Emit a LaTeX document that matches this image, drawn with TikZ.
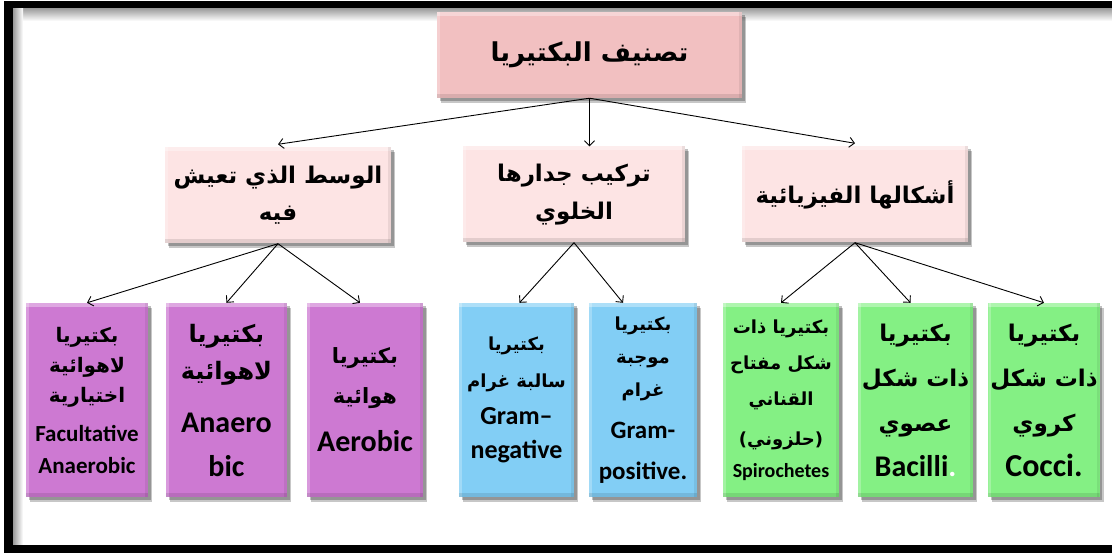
\documentclass[tikz,border=0pt]{standalone}
\usepackage{fontspec}
\setmainfont{Carlito}
\newfontfamily\arabicfont[Script=Arabic]{DejaVu Sans}
\TeXXeTstate=1
\usetikzlibrary{arrows.meta,shadows}

% bold Arabic face and a per-line size switch
\newcommand\arf{\arabicfont\bfseries}
\newcommand\sz[1]{\fontsize{#1}{#1}\selectfont}
\newcommand\fsz[2]{\fontsize{#1}{#2}\selectfont}
\newcommand\enln[2]{\fontsize{#1}{#1}\selectfont\bfseries #2}

\definecolor{toppink}{RGB}{242,192,193}
\definecolor{lightpink}{RGB}{253,228,228}
\definecolor{violetbox}{RGB}{205,121,210}
\definecolor{skybox}{RGB}{130,206,245}
\definecolor{greenbox}{RGB}{132,240,132}

\begin{document}
\begin{tikzpicture}[x=1pt,y=-1pt,
  boxbase/.style={rectangle, inner sep=2pt, align=center, text=black,
    drop shadow={shadow xshift=4pt, shadow yshift=-5pt, opacity=.22, fill=black},
    drop shadow={shadow xshift=2.5pt, shadow yshift=-3pt, opacity=.25, fill=black},
    path picture={
      \fill[white,opacity=.35] (path picture bounding box.north west) rectangle ([yshift=-4pt]path picture bounding box.north east);
      \fill[white,opacity=.25] (path picture bounding box.north west) rectangle ([xshift=3pt]path picture bounding box.south west);
      \fill[black,opacity=.10] ([yshift=4pt]path picture bounding box.south west) rectangle (path picture bounding box.south east);
      \fill[black,opacity=.07] ([xshift=-3pt]path picture bounding box.north east) rectangle (path picture bounding box.south east);
    }},
  titlebox/.style={boxbase, fill=toppink, minimum width=305pt, minimum height=86pt},
  groupbox/.style={boxbase, fill=lightpink, minimum height=96pt},
  leafbox/.style={boxbase, minimum height=194pt},
  arr/.style={draw=black, line width=0.9pt, -{Straight Barb[length=5pt,width=10pt]}}
]
\useasboundingbox (0,0) rectangle (1112,553);
\fill[white] (0,0) rectangle (1112,553);

% frame, open on the right
\shade[top color=black!40, bottom color=white] (13,8) rectangle (1112,21);
\shade[left color=black!40, right color=white] (13,8) rectangle (23,545);
\fill[black] (4,0.7) rectangle (1112,8);
\fill[black] (4,0.7) rectangle (13,553);
\fill[black] (4,545) rectangle (1112,553);

% root
\node[titlebox, font=\fsz{26}{32}] (root) at (589.5,55)
  {\arf\beginR تصنيف البكتيريا\endR};

% groups
\node[groupbox, minimum width=226pt, font=\fsz{10}{37}] (medium) at (278,195.5)
  {\sz{23}\arf\beginR الوسط الذي تعيش\endR\\\sz{23}\arf\beginR فيه\endR};
\node[groupbox, minimum width=222pt, font=\fsz{10}{38}] (wall) at (574,194.5)
  {\sz{23}\arf\beginR تركيب جدارها\endR\\\sz{23}\arf\beginR الخلوي\endR};
\node[groupbox, minimum width=226pt, font=\fsz{23}{30}] (shape) at (855,194.5)
  {\arf\beginR أشكالها الفيزيائية\endR};

% leaves: medium
\node[leafbox, fill=violetbox, minimum width=122pt, font=\fsz{10}{30}] (facult) at (87,400)
  {\sz{20}\arf\beginR بكتيريا\endR\\\sz{20}\arf\beginR لاهوائية\endR\\\sz{20}\arf\beginR اختيارية\endR\\[9pt]
   \enln{23}{Facultative}\\[2pt]\enln{23}{Anaerobic}};
\node[leafbox, fill=violetbox, minimum width=121pt, font=\fsz{10}{37}] (anaer) at (226.5,400)
  {\sz{24}\arf\beginR بكتيريا\endR\\\sz{24}\arf\beginR لاهوائية\endR\\[16pt]
   \enln{30}{Anaero}\\[7pt]\enln{30}{bic}};
\node[leafbox, fill=violetbox, minimum width=116pt, font=\fsz{10}{40}] (aerob) at (365,400)
  {\sz{21}\arf\beginR بكتيريا\endR\\\sz{21}\arf\beginR هوائية\endR\\[8pt]
   \enln{30}{Aerobic}};

% leaves: wall
\node[leafbox, fill=skybox, minimum width=115pt, font=\fsz{10}{37}] (gneg) at (516.5,400)
  {\sz{18}\arf\beginR بكتيريا\endR\\\sz{18}\arf\beginR سالبة غرام\endR\\
   \enln{26}{Gram–}\\[-3pt]\enln{26}{negative}};
\node[leafbox, fill=skybox, minimum width=108pt, font=\fsz{10}{33}] (gpos) at (643,400)
  {\sz{18}\arf\beginR بكتيريا\endR\\\sz{18}\arf\beginR موجبة\endR\\\sz{18}\arf\beginR غرام\endR\\[9pt]
   \enln{25}{Gram-}\\[8pt]\enln{25}{positive.}};

% leaves: shape
\node[leafbox, fill=greenbox, minimum width=116pt, font=\fsz{10}{36}] (spiro) at (781,400)
  {\sz{18}\arf\beginR بكتيريا ذات\endR\\\sz{18}\arf\beginR شكل مفتاح\endR\\\sz{18}\arf\beginR القناني\endR\\[4pt]\sz{18}\arf\beginR (حلزوني)\endR\\[-4pt]
   \enln{20}{Spirochetes}};
\node[leafbox, fill=greenbox, minimum width=115pt, font=\fsz{10}{45}] (bacil) at (915.5,400)
  {\sz{23}\arf\beginR بكتيريا\endR\\\sz{23}\arf\beginR ذات شكل\endR\\\sz{23}\arf\beginR عصوي\endR\\
   \enln{30}{Bacilli{\color{white}.}}};
\node[leafbox, fill=greenbox, minimum width=108pt, font=\fsz{10}{45}] (cocci) at (1044,400)
  {\sz{23}\arf\beginR بكتيريا\endR\\\sz{23}\arf\beginR ذات شكل\endR\\\sz{23}\arf\beginR كروي\endR\\
   \enln{32}{Cocci.}};

% connectors
\draw[arr] (root.south) -- ([yshift=3pt]medium.north);
\draw[arr] (root.south) -- (root.south |- wall.north);
\draw[arr] (root.south) -- ([yshift=3pt]shape.north);

\draw[arr] (medium.south) -- (facult.north);
\draw[arr] (medium.south) -- (anaer.north);
\draw[arr] (medium.south) -- ([xshift=-5pt]aerob.north);

\draw[arr] (wall.south) -- ([xshift=3pt]gneg.north);
\draw[arr] (wall.south) -- ([xshift=-20pt]gpos.north);

\draw[arr] (shape.south) -- (spiro.north);
\draw[arr] (shape.south) -- ([xshift=-5pt]bacil.north);
\draw[arr] (shape.south) -- (cocci.north);
\end{tikzpicture}
\end{document}
